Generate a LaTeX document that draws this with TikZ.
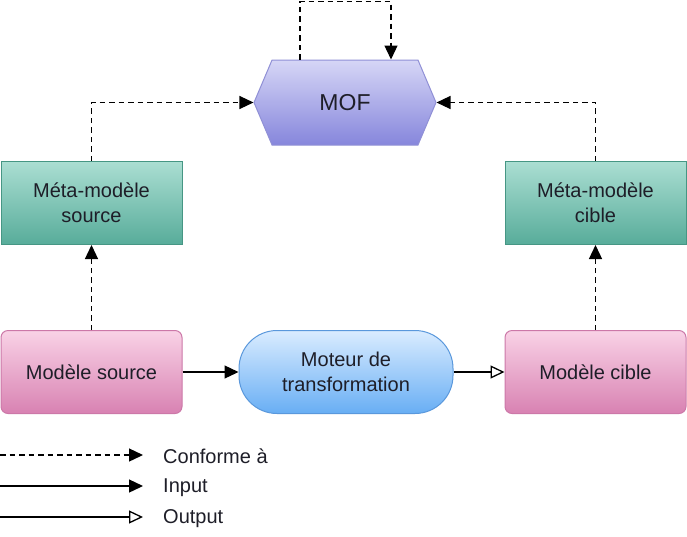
\documentclass[tikz,border=0pt]{standalone}
\usepackage{fontspec}
\setmainfont{Liberation Sans}
\usepackage{tikz}
\usetikzlibrary{positioning,arrows.meta,shapes.symbols}
\usepackage{xcolor}
\definecolor{mofTop}{RGB}{214,214,246}
\definecolor{mofBot}{RGB}{134,134,220}
\definecolor{mofLine}{RGB}{144,144,214}
\definecolor{metaTop}{RGB}{170,222,210}
\definecolor{metaBot}{RGB}{88,172,154}
\definecolor{metaLine}{RGB}{70,150,132}
\definecolor{modTop}{RGB}{249,210,230}
\definecolor{modBot}{RGB}{216,130,178}
\definecolor{modLine}{RGB}{204,120,168}
\definecolor{engTop}{RGB}{218,236,255}
\definecolor{engBot}{RGB}{104,174,244}
\definecolor{engLine}{RGB}{90,152,220}
\definecolor{txt}{RGB}{30,30,40}

\begin{document}
\begin{tikzpicture}[
    x=1pt, y=-1pt,
    box/.style={draw, line width=1pt, minimum width=181pt, minimum height=83pt, align=center, inner sep=0pt, text=txt, font=\fontsize{20}{25}\selectfont},
    metabox/.style={box, draw=metaLine, top color=metaTop, bottom color=metaBot},
    modbox/.style={box, rounded corners=7pt, draw=modLine, top color=modTop, bottom color=modBot},
    enginebox/.style={box, rounded corners=38pt, minimum width=214pt, draw=engLine, top color=engTop, bottom color=engBot},
    mofbox/.style={signal, signal to=west and east, signal pointer angle=134, draw=mofLine, line width=1pt, top color=mofTop, bottom color=mofBot, minimum width=182pt, minimum height=85pt, inner sep=0pt, text=txt, font=\fontsize{23}{27}\selectfont},
    legtext/.style={anchor=west, inner sep=0pt, text=txt, font=\fontsize{20}{24}\selectfont},
    conform/.style={-{Triangle[length=14pt,width=13pt]}, line width=1.3pt, dash pattern=on 5.5pt off 4pt},
    input/.style={-{Triangle[length=14pt,width=13pt]}, line width=1.3pt},
    output/.style={-{Triangle[open,length=14pt,width=13pt]}, line width=1.3pt}
]
    \useasboundingbox[fill=white] (0,0) rectangle (687,536);

    % Models
    \node[modbox] (msrc) at (91.5,372) {Modèle source};
    \node[enginebox, right=56pt of msrc] (engine) {Moteur de\\transformation};
    \node[modbox, right=51pt of engine] (mcib) {Modèle cible};

    % Meta-models
    \node[metabox, above=85pt of msrc] (metasrc) {Méta-modèle\\source};
    \node[metabox, above=85pt of mcib] (metacib) {Méta-modèle\\cible};

    % Meta-meta-model
    \node[mofbox] (mof) at (345,102.5) {MOF};

    % Arrows
    \draw[input] (msrc) -- (engine);
    \draw[output] (engine) -- (mcib);

    % Conformity arrows
    \draw[conform] (msrc) -- (metasrc);
    \draw[conform] (mcib) -- (metacib);
    \draw[conform] (metasrc.north) |- (mof.west);
    \draw[conform] (metacib.north) |- (mof.east);
    \draw[conform] ([xshift=-45pt]mof.north) -- ++(0,-58) -| ([xshift=46pt]mof.north);

    % Legend
    \coordinate (c1) at (0,455);
    \coordinate (c2) at (0,486);
    \coordinate (c3) at (0,517);
    \node[legtext] (lconf) at (163,456) {Conforme à};
    \node[legtext] (linput) at (163,488) {Input};
    \node[legtext] (loutput) at (163,519) {Output};
    \draw[conform] (c1) -- ([xshift=-20pt]lconf.west |- c1);
    \draw[input] (c2) -- ([xshift=-20pt]linput.west |- c2);
    \draw[output] (c3) -- ([xshift=-20pt]loutput.west |- c3);
\end{tikzpicture}
\end{document}
